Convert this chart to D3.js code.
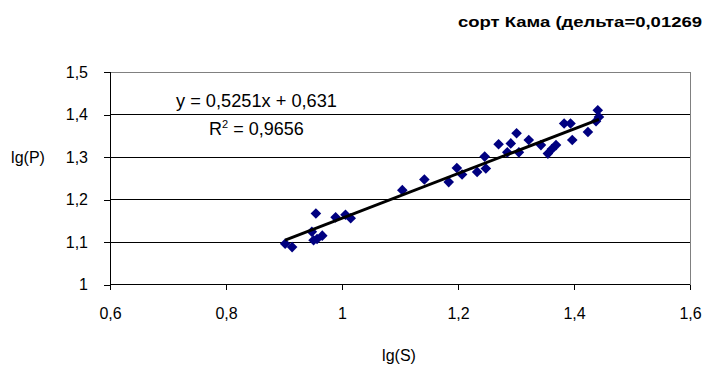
<!DOCTYPE html>
<html><head><meta charset="utf-8">
<script src="https://cdn.jsdelivr.net/npm/d3@7"></script>
<style>body{margin:0;background:#fff;overflow:hidden}svg{display:block;font-family:"Liberation Sans",Arial,sans-serif}</style>
</head><body><svg id="c" width="703" height="368"></svg>
<script>
const xs = [0.902,0.914,0.951,0.948,0.957,0.966,0.955,0.989,1.006,1.015,1.104,1.142,1.184,1.198,1.207,1.233,1.246,1.248,1.270,1.285,1.291,1.301,1.305,1.322,1.343,1.355,1.362,1.369,1.383,1.394,1.397,1.424,1.438,1.441,1.443];
const ys = [1.096,1.088,1.104,1.124,1.107,1.115,1.167,1.158,1.164,1.156,1.222,1.247,1.241,1.274,1.259,1.265,1.301,1.273,1.330,1.311,1.332,1.356,1.311,1.340,1.328,1.308,1.319,1.328,1.379,1.379,1.340,1.359,1.384,1.410,1.394];
const xTicks = [0.6,0.8,1.0,1.2,1.4,1.6];
const yTicks = [1.0,1.1,1.2,1.3,1.4,1.5];
const slope = 0.5251, intercept = 0.631;
const title = "сорт Кама (дельта=0,01269";
const eqText = "y = 0,5251x + 0,631";
const r2Value = "0,9656";

const fmt = v => String(+v.toFixed(2)).replace(".", ",");
const svg = d3.select("#c");
const L = 110, R = 690, T = 72, B = 284.5;
const x = d3.scaleLinear().domain([0.6, 1.6]).range([L, R]);
const y = d3.scaleLinear().domain([1.0, 1.5]).range([B, T]);

svg.append("g").selectAll("line").data(yTicks.filter(v => v > 1 && v < 1.5)).join("line")
  .attr("x1", L).attr("x2", R).attr("y1", d => y(d)).attr("y2", d => y(d))
  .attr("stroke", "#000").attr("stroke-width", 1).attr("shape-rendering", "crispEdges");
svg.append("path").attr("d", `M${L},${y(1.5)}H${R}V${B}`).attr("fill", "none")
  .attr("stroke", "#808080").attr("stroke-width", 1).attr("shape-rendering", "crispEdges");

const gx = svg.append("g").attr("transform", `translate(0,${B})`)
  .call(d3.axisBottom(x).tickValues(xTicks).tickFormat(fmt).tickSize(5).tickPadding(18));
const gy = svg.append("g").attr("transform", `translate(${L},0)`)
  .call(d3.axisLeft(y).tickValues(yTicks).tickFormat(fmt).tickSize(6).tickPadding(16));
[gx, gy].forEach(g => {
  g.attr("font-size", 16).attr("font-family", null);
  g.selectAll("path,line").attr("stroke", "#000").attr("shape-rendering", "crispEdges");
  g.selectAll("text").attr("fill", "#000");
});
gx.select(".domain").attr("d", `M${L},0H${R}`);
gy.select(".domain").attr("d", `M0,${B}V${T}`);

const pts = xs.map((v, i) => [v, ys[i]]);
svg.append("g").selectAll("path").data(pts).join("path")
  .attr("transform", d => `translate(${x(d[0])},${y(d[1])})`)
  .attr("d", "M0,-5.3L5.3,0L0,5.3L-5.3,0Z").attr("fill", "#000080");

const x0 = d3.min(xs), x1 = d3.max(xs);
svg.append("line").attr("x1", x(x0)).attr("y1", y(slope * x0 + intercept))
  .attr("x2", x(x1)).attr("y2", y(slope * x1 + intercept))
  .attr("stroke", "#000").attr("stroke-width", 3);

svg.append("text").attr("x", 458).attr("y", 27).attr("font-size", 14.5).attr("font-weight", "bold")
  .attr("textLength", 244).attr("lengthAdjust", "spacingAndGlyphs").text(title);
svg.append("text").attr("x", 176).attr("y", 107).attr("font-size", 18)
  .attr("textLength", 161).attr("lengthAdjust", "spacingAndGlyphs").text(eqText);
const r2 = svg.append("text").attr("x", 209).attr("y", 135).attr("font-size", 18);
r2.append("tspan").text("R");
r2.append("tspan").attr("dy", -7).attr("font-size", 11).text("2");
r2.append("tspan").attr("dy", 7).text(" = " + r2Value);
svg.append("text").attr("x", 28).attr("y", 163).attr("text-anchor", "middle").attr("font-size", 16).text("lg(P)");
svg.append("text").attr("x", 399).attr("y", 361).attr("text-anchor", "middle").attr("font-size", 16).text("lg(S)");
</script></body></html>
